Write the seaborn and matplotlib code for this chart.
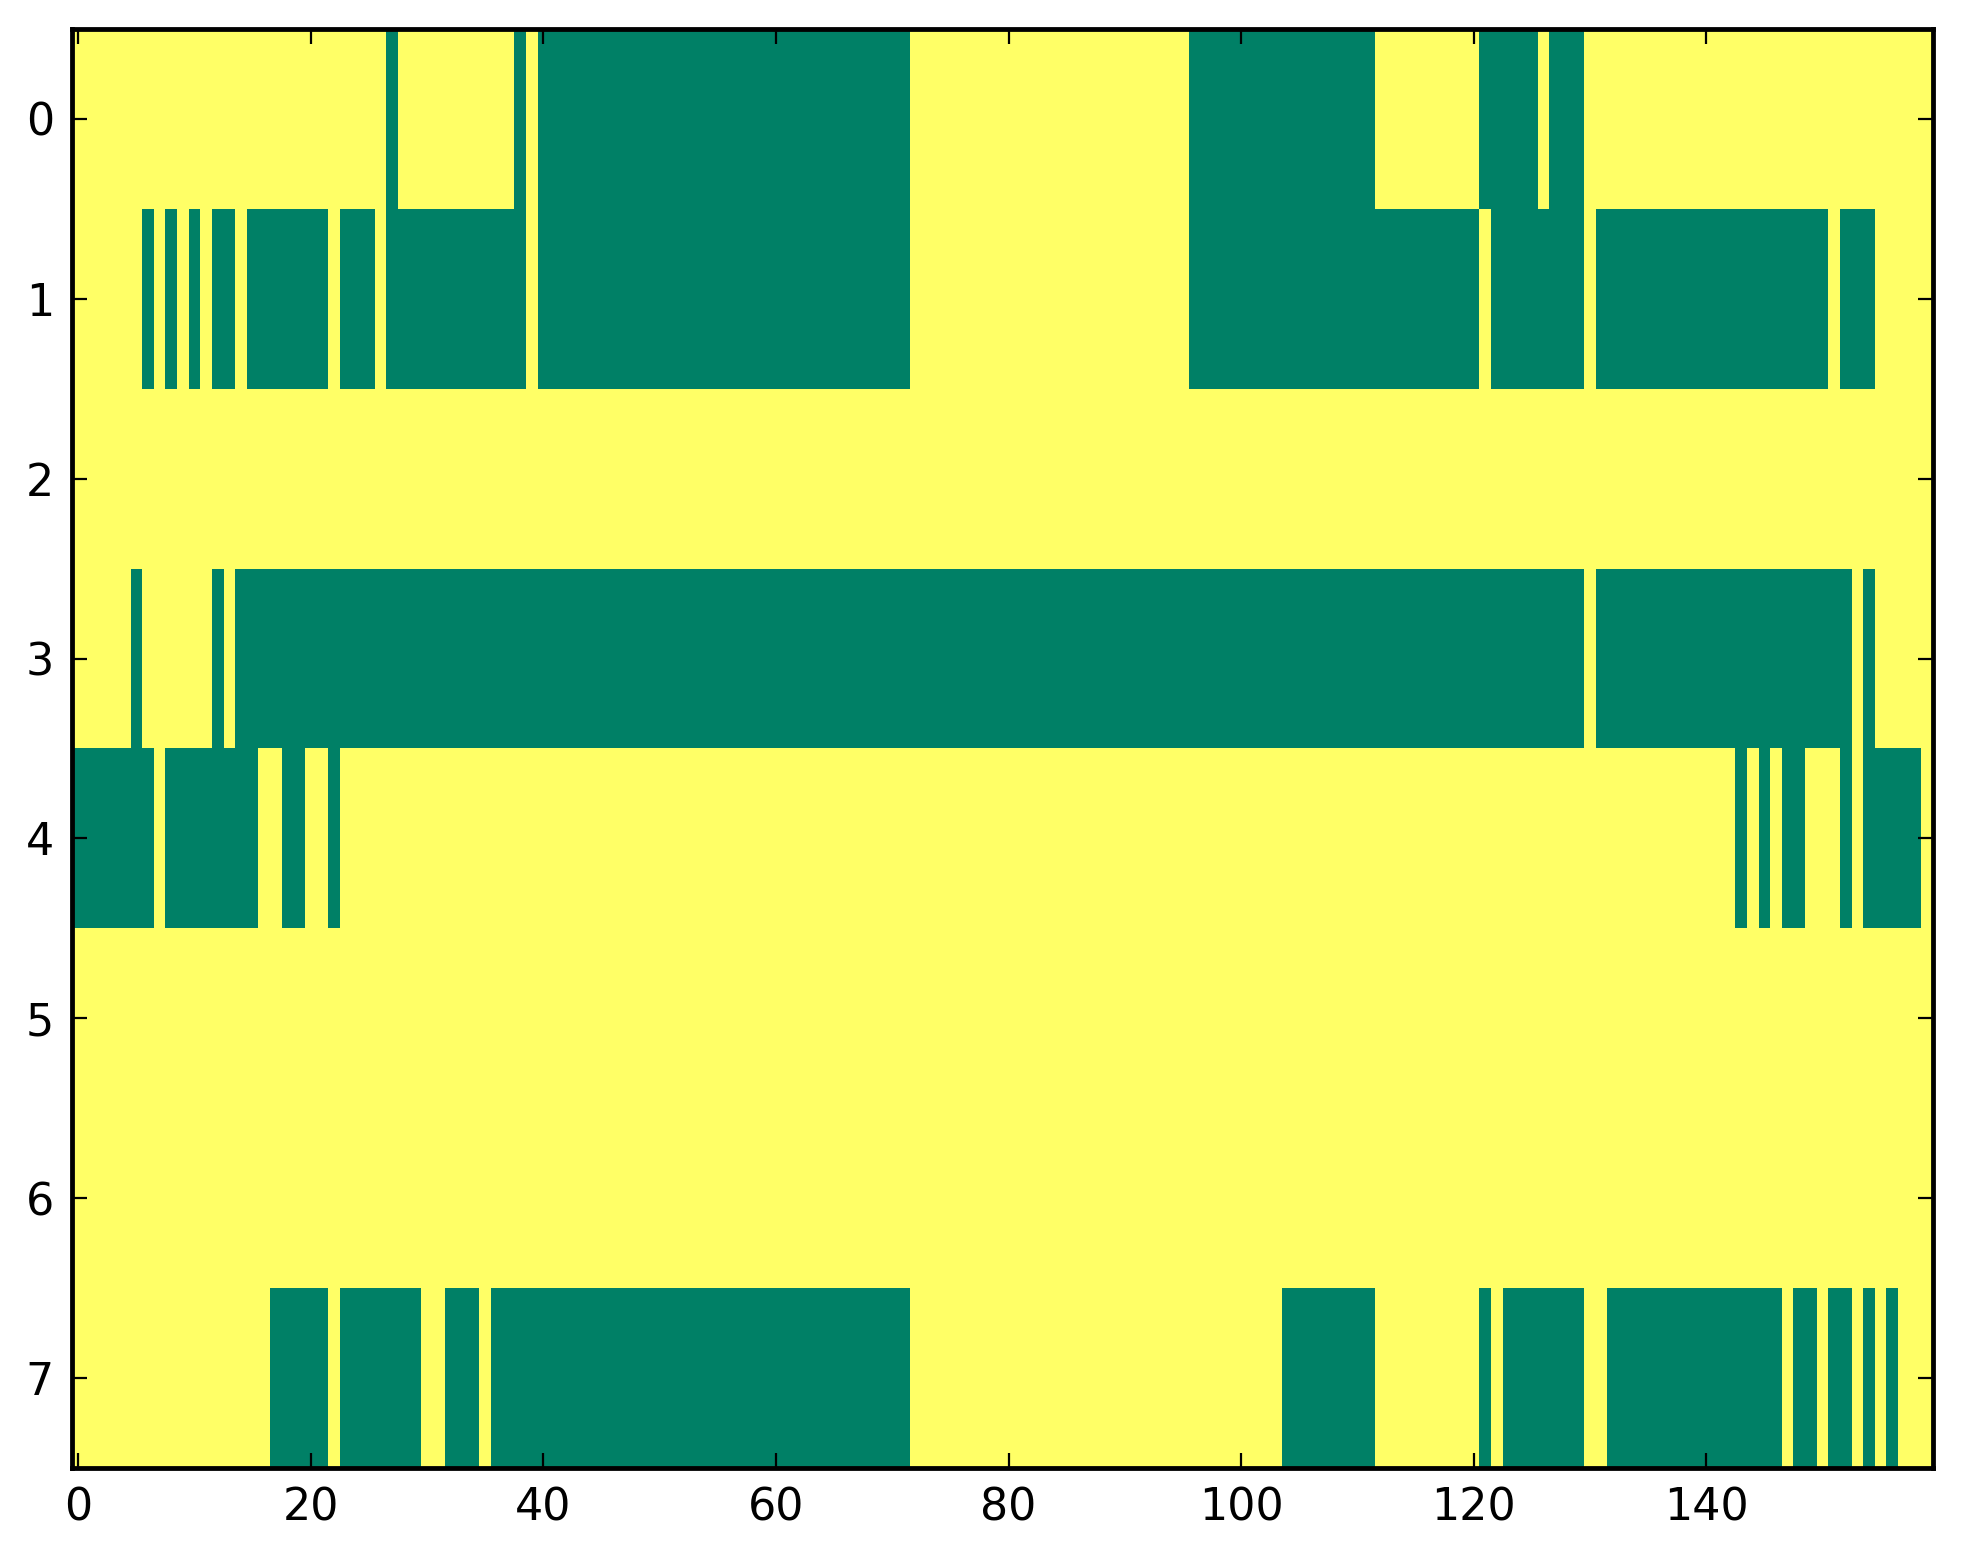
import matplotlib
matplotlib.use('Agg')
import matplotlib.pyplot as plt
import numpy as np
import seaborn as sns

n_cols = 160
n_rows = 8

# green cells per row, as inclusive (start, end) column runs; everything else is yellow
row0_green = [(27, 27), (38, 38), (40, 71), (96, 111), (121, 125), (127, 129)]
row1_green = [(6, 6), (8, 8), (10, 10), (12, 13), (15, 21), (23, 25), (27, 38),
              (40, 71), (96, 120), (122, 129), (131, 150), (152, 154)]
row2_green = []
row3_green = [(5, 5), (12, 12), (14, 129), (131, 152), (154, 154)]
row4_green = [(0, 6), (8, 15), (18, 19), (22, 22), (143, 143), (145, 145),
              (147, 148), (152, 152), (154, 158)]
row5_green = []
row6_green = []
row7_green = [(17, 21), (23, 29), (32, 34), (36, 71), (104, 111), (121, 121),
              (123, 129), (132, 146), (148, 149), (151, 152), (154, 154), (156, 156)]

rows_green = [row0_green, row1_green, row2_green, row3_green,
              row4_green, row5_green, row6_green, row7_green]

x_ticks = [0, 20, 40, 60, 80, 100, 120, 140]
y_ticks = [0, 1, 2, 3, 4, 5, 6, 7]

# 1 = yellow, 0 = green (summer colormap)
data = np.ones((n_rows, n_cols))
for r, runs in enumerate(rows_green):
    for a, b in runs:
        data[r, a:b + 1] = 0

sns.set_style('ticks')
plt.rcParams['font.family'] = ['DejaVu Sans']
plt.rcParams['font.size'] = 12
plt.rcParams['axes.axisbelow'] = False

fig = plt.figure(figsize=(1963 / 266, 1564 / 266), dpi=266)
ax = fig.add_axes([0.0369, 0.0614, 0.9478, 0.9201])

sns.heatmap(data, cmap='summer', vmin=0, vmax=1, cbar=False, ax=ax,
            xticklabels=False, yticklabels=False)
ax.set_axisbelow(False)

for s in ax.spines.values():
    s.set_visible(True)
    s.set_linewidth(1.3)
    s.set_color('black')
    s.set_zorder(3)

ax.set_xticks([t + 0.5 for t in x_ticks])
ax.set_xticklabels([str(t) for t in x_ticks], rotation=0, fontsize=12)
ax.set_yticks([t + 0.5 for t in y_ticks])
ax.set_yticklabels([str(t) for t in y_ticks], rotation=0, fontsize=12)
ax.tick_params(direction='in', top=True, right=True, length=4, width=0.6,
               pad=5, colors='black')
ax.set_xlim(0, n_cols)
ax.set_ylim(n_rows, 0)

fig.savefig('out.png', dpi=266)
